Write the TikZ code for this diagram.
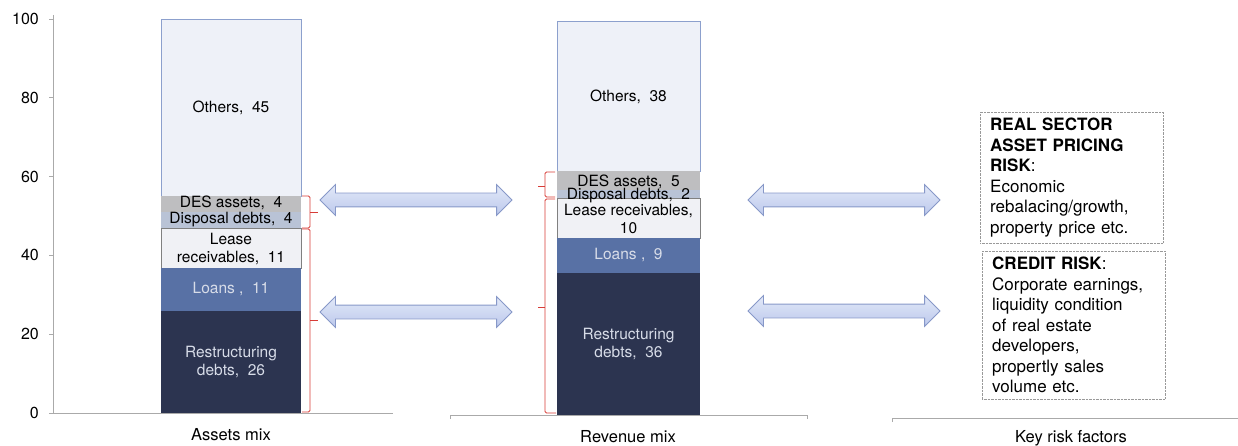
\documentclass[tikz,border=0pt]{standalone}
\usepackage{fontspec}
\setmainfont{TeX Gyre Heros}
\usetikzlibrary{shapes.arrows}

\definecolor{restr}{RGB}{44,52,80}
\definecolor{loans}{RGB}{88,113,165}
\definecolor{lease}{RGB}{240,241,245}
\definecolor{dispo}{RGB}{185,195,214}
\definecolor{desgray}{RGB}{190,190,192}
\definecolor{others}{RGB}{238,241,248}
\definecolor{othline}{RGB}{140,160,205}
\definecolor{axisgray}{RGB}{170,170,170}
\definecolor{bracered}{RGB}{215,60,55}
\definecolor{arrowtop}{RGB}{226,232,248}
\definecolor{arrowbot}{RGB}{188,201,236}
\definecolor{arrowline}{RGB}{135,152,200}
\definecolor{paletext}{RGB}{215,220,232}

\begin{document}
\begin{tikzpicture}[x=1pt, y=-1pt,
    seglabel/.style={font=\fontsize{15.5}{18}\selectfont, align=center, inner sep=0pt},
    ticklabel/.style={font=\fontsize{16}{18}\selectfont, anchor=east, inner sep=0pt},
    axislabel/.style={font=\fontsize{16.5}{18}\selectfont, inner sep=0pt},
    riskbox/.style={draw=gray!80, densely dotted, anchor=north west, align=left, text width=163pt, inner xsep=10pt, inner ysep=6pt, font=\fontsize{17}{20.5}\selectfont},
    blockarrow/.style={double arrow, draw=arrowline, top color=arrowtop, bottom color=arrowbot, line width=0.8pt, minimum height=192pt, inner sep=6.5pt, double arrow head extend=8.5pt},
    bracket/.style={draw=bracered, line width=0.8pt, rounded corners=1.5pt}]
    \useasboundingbox (0,0) rectangle (1238,446);

    % Axis
    \draw[axisgray, line width=0.8pt] (53,15) -- (53,413);
    \draw[axisgray, line width=0.8pt] (50,413) -- (393,413);
    \foreach \v in {0,20,...,100} {
        \draw[axisgray, line width=0.8pt] (49,{413-3.94*\v}) -- (53,{413-3.94*\v});
        \node[ticklabel] (tick\v) at (39,{413-3.94*\v}) {\v};
    }

    % Assets mix bar
    \filldraw[fill=others, draw=othline] (161,19) rectangle (301,196);
    \fill[desgray] (161,196) rectangle (301,212);
    \fill[dispo] (161,212) rectangle (301,228);
    \filldraw[fill=lease, draw=gray] (161,228) rectangle (301,268);
    \fill[loans] (161,268) rectangle (301,311);
    \fill[restr] (161,311) rectangle (301,413);

    \node[seglabel] (aOth) at (231,108) {Others,~ 45};
    \node[seglabel] (aDes) at (231,203) {DES assets,~ 4};
    \node[seglabel] (aDis) at (231,220) {Disposal debts,~ 4};
    \node[seglabel] (aLea) at (231,249) {Lease\\receivables,~ 11};
    \node[seglabel, text=paletext] (aLoa) at (231,289) {Loans ,~ 11};
    \node[seglabel, text=paletext] (aRes) at (231,362) {Restructuring\\debts,~ 26};

    % Revenue mix bar
    \filldraw[fill=others, draw=othline] (557,21) rectangle (700,171);
    \fill[desgray] (557,171) rectangle (700,190);
    \fill[dispo] (557,190) rectangle (700,198);
    \filldraw[fill=lease, draw=gray] (557,198) rectangle (700,238);
    \fill[loans] (557,238) rectangle (700,273);
    \fill[restr] (557,273) rectangle (700,415);

    \node[seglabel] (rOth) at (628.5,97) {Others,~ 38};
    \node[seglabel] (rDes) at (628.5,182) {DES assets,~ 5};
    \node[seglabel] (rDis) at (628.5,196) {Disposal debts,~ 2};
    \node[seglabel] (rLea) at (628.5,219) {Lease receivables,\\10};
    \node[seglabel, text=paletext] (rLoa) at (628.5,255) {Loans ,~ 9};
    \node[seglabel, text=paletext] (rRes) at (628.5,344) {Restructuring\\debts,~ 36};

    % Baselines and captions
    \draw[axisgray, line width=0.8pt] (450,419) -- (450,415) -- (807,415) -- (807,419);
    \draw[axisgray, line width=0.8pt] (892,422) -- (892,418) -- (1238,418);
    \node[axislabel] (assetsmix) at (231,435) {Assets mix};
    \node[axislabel] (revmix) at (628,437) {Revenue mix};
    \node[axislabel] (keyrisk) at (1071,438) {Key risk factors};

    % Brackets
    \draw[bracket] (302,196) -| (310,228) -- (302,228);
    \draw[bracket] (310,212) -- (318,212);
    \draw[bracket] (302,229) -| (310,412) -- (302,412);
    \draw[bracket] (310,320) -- (318,320);
    \draw[bracket] (555,172) -| (545,197) -- (555,197);
    \draw[bracket] (545,186) -- (538,186);
    \draw[bracket] (555,199) -| (545,413) -- (556,413);
    \draw[bracket] (545,307) -- (538,307);

    % Arrows
    \node[blockarrow] (arrA1) at (416,200) {};
    \node[blockarrow] (arrA2) at (416,312) {};
    \node[blockarrow] (arrB1) at (844,200) {};
    \node[blockarrow] (arrB2) at (844,311) {};

    % Risk boxes
    \node[riskbox] (pricing) at (980,112) {{\bfseries REAL SECTOR}\\{\bfseries ASSET PRICING}\\{\bfseries RISK}:\\Economic\\rebalacing/growth,\\property price etc.};
    \node[riskbox] (credit) at (982,251) {{\bfseries CREDIT RISK}:\\Corporate earnings,\\liquidity condition\\of real estate\\developers,\\propertly sales\\volume etc.};
\end{tikzpicture}
\end{document}
